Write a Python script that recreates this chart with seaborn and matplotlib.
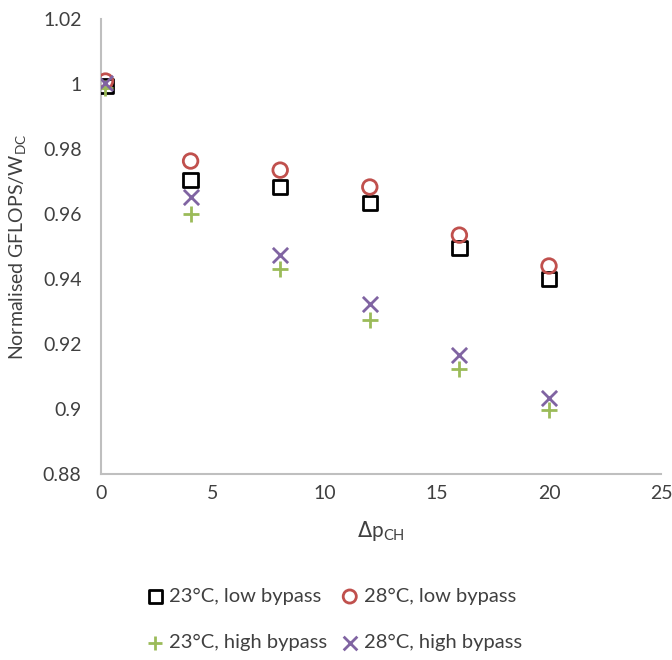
import matplotlib
matplotlib.use("Agg")
import matplotlib.pyplot as plt
import seaborn as sns
import pandas as pd

# Channel pressure drop values
dp_ch = [0.2, 4, 8, 12, 16, 20]

# Normalised GFLOPS/W_DC per configuration
low_23 = [0.9994, 0.9705, 0.9683, 0.9634, 0.9495, 0.9400]
low_28 = [1.0009, 0.9763, 0.9735, 0.9683, 0.9535, 0.9440]
high_23 = [0.9988, 0.9600, 0.9430, 0.9275, 0.9123, 0.8997]
high_28 = [1.0003, 0.9652, 0.9474, 0.9323, 0.9166, 0.9034]

series_names = ["23°C, low bypass", "28°C, low bypass",
                "23°C, high bypass", "28°C, high bypass"]
series_values = [low_23, low_28, high_23, high_28]

x_ticks = [0, 5, 10, 15, 20, 25]
y_ticks = [0.88, 0.9, 0.92, 0.94, 0.96, 0.98, 1, 1.02]
y_tick_labels = ["0.88", "0.9", "0.92", "0.94", "0.96", "0.98", "1", "1.02"]

rows = []
for name, vals in zip(series_names, series_values):
    for x, v in zip(dp_ch, vals):
        rows.append({"dp": x, "val": v, "series": name})
df = pd.DataFrame(rows)

sns.set_theme(style="white")
plt.rcParams["font.family"] = ["Lato", "DejaVu Sans"]

styles = {
    "23°C, low bypass": dict(marker="s", color="black", facecolors="none", s=110, linewidths=2),
    "28°C, low bypass": dict(marker="o", color="#C0504D", facecolors="none", s=110, linewidths=2),
    "23°C, high bypass": dict(marker="+", color="#9BBB59", s=140, linewidths=2),
    "28°C, high bypass": dict(marker="x", color="#8064A2", s=120, linewidths=2),
}

fig = plt.figure(figsize=(6.72, 6.6), dpi=100)
ax = fig.add_axes([101 / 672, 1 - 474 / 660, 560 / 672, 455 / 660])

handles = {}
for name in series_names:
    st = dict(styles[name])
    color = st.pop("color")
    sub = df[df["series"] == name]
    if st["marker"] in ("s", "o"):
        h = ax.scatter(sub["dp"], sub["val"], edgecolors=color, label=name, zorder=3, **st)
    else:
        h = ax.scatter(sub["dp"], sub["val"], c=color, label=name, zorder=3, **st)
    handles[name] = h

ax.set_xlim(0, 25)
ax.set_ylim(0.88, 1.02)
ax.set_xticks(x_ticks)
ax.set_xticklabels([str(t) for t in x_ticks])
ax.set_yticks(y_ticks)
ax.set_yticklabels(y_tick_labels)
ax.tick_params(axis="both", length=0, labelsize=14, colors="#404040", pad=8)
ax.tick_params(axis="y", pad=14)

for side in ("top", "right"):
    ax.spines[side].set_visible(False)
for side in ("left", "bottom"):
    ax.spines[side].set_color("#BFBFBF")
    ax.spines[side].set_linewidth(1.5)

ax.set_xlabel(r"$\Delta$p$_{\mathregular{CH}}$", fontsize=15, color="#404040", labelpad=12)
ax.set_ylabel(r"Normalised GFLOPS/W$_{\mathregular{DC}}$", fontsize=14, color="#404040", labelpad=10)

# legend fills column-wise, so order entries to read row by row
leg_order = ["23°C, low bypass", "23°C, high bypass",
             "28°C, low bypass", "28°C, high bypass"]
leg = fig.legend(handles=[handles[n] for n in leg_order], labels=leg_order,
                 loc="upper center", bbox_to_anchor=(0.495, 0.137), ncol=2,
                 frameon=False, fontsize=14.5, handletextpad=0.1,
                 columnspacing=0.5, labelspacing=1.45, markerscale=0.9,
                 handlelength=1.2)
for t in leg.get_texts():
    t.set_color("#404040")

fig.savefig("out.png", dpi=100)
